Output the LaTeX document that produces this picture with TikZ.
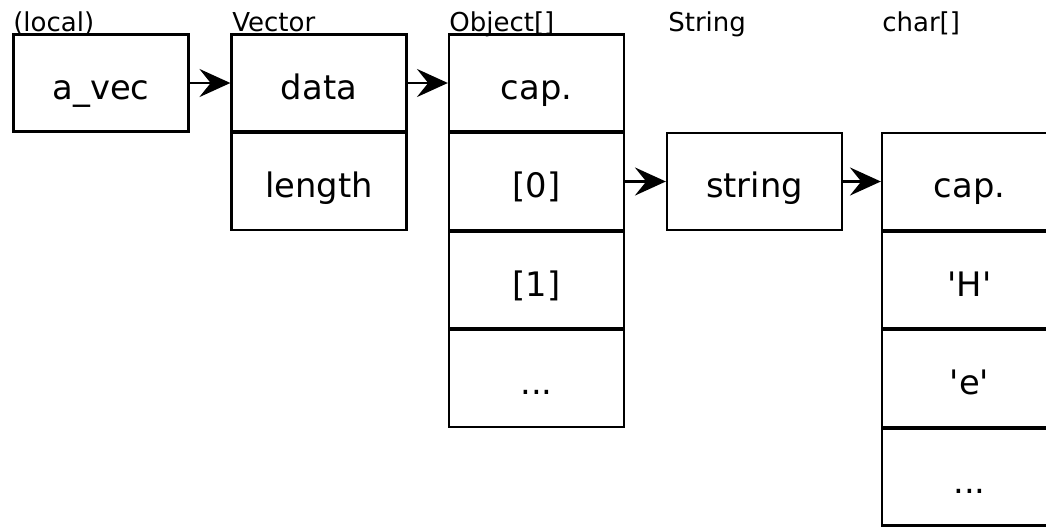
\documentclass[tikz,border=0pt]{standalone}
\usepackage{fontspec}
\setmainfont{DejaVu Sans}
\usetikzlibrary{arrows.meta}

\begin{document}
\begin{tikzpicture}[x=0.025cm, y=-0.025cm,
    cell/.style={draw, line width=1.6pt, rectangle, inner sep=0pt,
      minimum width=4.375cm, minimum height=2.425cm,
      font=\fontsize{24}{28}\selectfont, text height=29pt, text depth=6pt},
    tag/.style={anchor=base west, inner sep=0pt, font=\fontsize{18.5}{22}\selectfont},
    ptr/.style={line width=1.6pt, -{Stealth[length=22pt, width=20pt, inset=8pt]}}]
        \useasboundingbox (0, 0) rectangle (1046, 527);

        % Column titles
        \node[tag] (tlocal) at (13, 31) {(local)};
        \node[tag] (tvector) at (232, 31) {Vector};
        \node[tag] (tobject) at (449, 31) {Object[]};
        \node[tag] (tstring) at (668, 31) {String};
        \node[tag] (tchar) at (882, 31) {char[]};

        % The local variable
        \node[cell] (avec) at (101, 83) {a\_vec};

        % The Vector object
        \node[cell] (vdata) at (319, 83) {data};
        \node[cell] (vlen) at (319, 181.5) {length};

        % The Object[] array
        \node[cell] (ocap) at (536.5, 83) {cap.};
        \node[cell] (ozero) at (536.5, 181.5) {[0]};
        \node[cell] (oone) at (536.5, 280) {[1]};
        \node[cell] (omore) at (536.5, 378.5) {...};

        % The String object
        \node[cell] (str) at (754.5, 181.5) {string};

        % The char[] array
        \node[cell] (ccap) at (969.5, 181.5) {cap.};
        \node[cell] (chh) at (969.5, 280) {\textquotesingle H\textquotesingle};
        \node[cell] (cee) at (969.5, 378.5) {\textquotesingle e\textquotesingle};
        \node[cell] (cmore) at (969.5, 477) {...};

        % Add the pointers
        \draw[ptr] (avec) -- (vdata);
        \draw[ptr] (vdata) -- (ocap);
        \draw[ptr] (ozero) -- (str);
        \draw[ptr] (str) -- (ccap);
    \end{tikzpicture}
\end{document}
